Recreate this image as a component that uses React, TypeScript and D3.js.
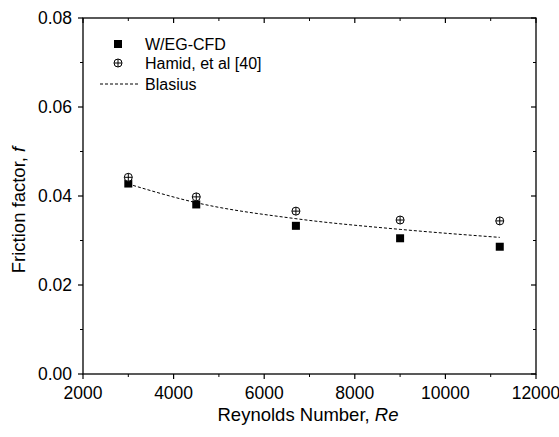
import React from "react";
import * as d3 from "d3";

const reynolds = [3000, 4500, 6700, 9000, 11200];
const cfdValues = [0.0428, 0.0381, 0.0333, 0.0305, 0.0286];
const hamidValues = [0.0442, 0.0398, 0.0366, 0.0346, 0.0344];
const blasiusValues = [0.0427, 0.0385, 0.0349, 0.0325, 0.0307];
const xTicks = [2000, 4000, 6000, 8000, 10000, 12000];
const xMinor = [3000, 5000, 7000, 9000, 11000];
const yTicks = [0, 0.02, 0.04, 0.06, 0.08];
const yMinor = [0.01, 0.03, 0.05, 0.07];
const legendLabels = ["W/EG-CFD", "Hamid, et al [40]", "Blasius"];

const W = 559, H = 437;
const L = 83, R = 536, T = 18, B = 374;
const FONT = "Arial, 'Liberation Sans', sans-serif";

export default function App() {
  const x = d3.scaleLinear().domain([2000, 12000]).range([L, R]);
  const y = d3.scaleLinear().domain([0, 0.08]).range([B, T]);
  const line = d3
    .line<number>()
    .x((_, i) => x(reynolds[i]))
    .y((d) => y(d))
    .curve(d3.curveMonotoneX);

  const sq = 8;
  const cr = 4;
  const Crosshair = ({ cx, cy }: { cx: number; cy: number }) => (
    <g>
      <circle cx={cx} cy={cy} r={cr} fill="white" stroke="black" strokeWidth={1} />
      <line x1={cx - cr} x2={cx + cr} y1={cy} y2={cy} stroke="black" strokeWidth={1} />
      <line x1={cx} x2={cx} y1={cy - cr} y2={cy + cr} stroke="black" strokeWidth={1} />
    </g>
  );

  return (
    <svg
      width={W}
      height={H}
      style={{ position: "absolute", left: 0, top: 0, background: "white" }}
      fontFamily={FONT}
    >
      <rect x={0} y={0} width={W} height={H} fill="white" />
      <rect x={L} y={T} width={R - L} height={B - T} fill="none" stroke="black" strokeWidth={1.3} />
      {xTicks.map((t) => (
        <g key={"xt" + t}>
          <line x1={x(t)} x2={x(t)} y1={B} y2={B + 5} stroke="black" strokeWidth={1.2} />
          <line x1={x(t)} x2={x(t)} y1={T} y2={T + 5} stroke="black" strokeWidth={1.2} />
          <text x={x(t)} y={399} textAnchor="middle" fontSize={17.5} fill="black">
            {t}
          </text>
        </g>
      ))}
      {xMinor.map((t) => (
        <g key={"xm" + t}>
          <line x1={x(t)} x2={x(t)} y1={B} y2={B + 3} stroke="black" strokeWidth={1} />
          <line x1={x(t)} x2={x(t)} y1={T} y2={T + 3} stroke="black" strokeWidth={1} />
        </g>
      ))}
      {yTicks.map((t) => (
        <g key={"yt" + t}>
          <line x1={L - 5} x2={L} y1={y(t)} y2={y(t)} stroke="black" strokeWidth={1.2} />
          <line x1={R - 5} x2={R} y1={y(t)} y2={y(t)} stroke="black" strokeWidth={1.2} />
          <text x={72} y={y(t) + 6} textAnchor="end" fontSize={17.5} fill="black">
            {t.toFixed(2)}
          </text>
        </g>
      ))}
      {yMinor.map((t) => (
        <g key={"ym" + t}>
          <line x1={L - 3} x2={L} y1={y(t)} y2={y(t)} stroke="black" strokeWidth={1} />
          <line x1={R - 3} x2={R} y1={y(t)} y2={y(t)} stroke="black" strokeWidth={1} />
        </g>
      ))}
      <text x={308} y={421} textAnchor="middle" fontSize={18.5} fill="black">
        Reynolds Number, <tspan fontStyle="italic">Re</tspan>
      </text>
      <text
        transform={`translate(25, 210) rotate(-90)`}
        textAnchor="middle"
        fontSize={18.5}
        fill="black"
      >
        Friction factor, <tspan fontStyle="italic">f</tspan>
      </text>
      <path
        d={line(blasiusValues) || ""}
        fill="none"
        stroke="black"
        strokeWidth={1}
        strokeDasharray="3,2"
      />
      {cfdValues.map((v, i) => (
        <rect
          key={"s" + i}
          x={x(reynolds[i]) - sq / 2}
          y={y(v) - sq / 2}
          width={sq}
          height={sq}
          fill="black"
        />
      ))}
      {hamidValues.map((v, i) => (
        <Crosshair key={"c" + i} cx={x(reynolds[i])} cy={y(v)} />
      ))}
      <rect x={118 - sq / 2} y={44 - sq / 2} width={sq} height={sq} fill="black" />
      <text x={145} y={50} fontSize={16} fill="black">
        {legendLabels[0]}
      </text>
      <Crosshair cx={118} cy={63} />
      <text x={145} y={69} fontSize={16} fill="black">
        {legendLabels[1]}
      </text>
      <line x1={100} x2={139} y1={84} y2={84} stroke="black" strokeWidth={1} strokeDasharray="3,2" />
      <text x={145} y={90} fontSize={16} fill="black">
        {legendLabels[2]}
      </text>
    </svg>
  );
}
